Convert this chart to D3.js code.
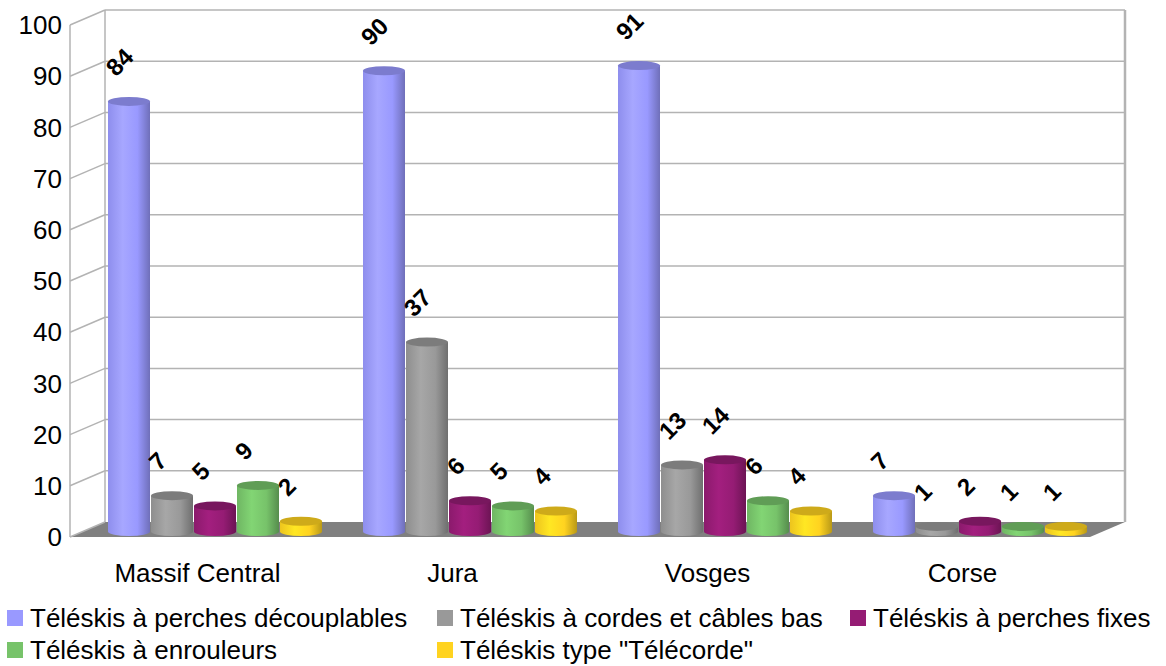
<!DOCTYPE html>
<html>
<head>
<meta charset="utf-8">
<script src="https://cdn.jsdelivr.net/npm/d3@7"></script>
<style>
  body { margin: 0; background: #fff; }
  text { font-family: "Liberation Sans", Arial, sans-serif; }
</style>
</head>
<body>
<div id="vis"></div>
<script>
// data
const regions = ["Massif Central", "Jura", "Vosges", "Corse"];
const seriesNames = [
    "Téléskis à perches découplables",
    "Téléskis à cordes et câbles bas",
    "Téléskis à perches fixes",
    "Téléskis à enrouleurs",
    "Téléskis type \"Télécorde\""
];
const decouplables = [84, 90, 91, 7];
const cordes = [7, 37, 13, 1];
const perchesFixes = [5, 6, 14, 2];
const enrouleurs = [9, 5, 6, 1];
const telecorde = [2, 4, 4, 1];
const yTicks = [0, 10, 20, 30, 40, 50, 60, 70, 80, 90, 100];
const colors = ["#9999ff", "#999999", "#951c74", "#77c36a", "#ffd320"];

const values = [decouplables, cordes, perchesFixes, enrouleurs, telecorde];

const width = 1166, height = 666;
const left = 70, right = 1090;   // front edge of the floor
const depth = { dx: 35, dy: -15 }; // offset front -> back wall

const svg = d3.select("#vis").append("svg")
    .attr("width", width)
    .attr("height", height);

const y = d3.scaleLinear().domain([0, 100]).range([537, 25]);
const x = d3.scaleBand().domain(regions).range([left, right]);
const xs = d3.scaleBand().domain(seriesNames)
    .range([20, x.bandwidth() - 20]);

const defs = svg.append("defs");
colors.forEach((c, i) => {
    const base = d3.color(c);
    const g = defs.append("linearGradient")
        .attr("id", "cyl" + i)
        .attr("x1", 0).attr("x2", 1).attr("y1", 0).attr("y2", 0);
    g.append("stop").attr("offset", 0).attr("stop-color", base.darker(0.2));
    g.append("stop").attr("offset", 0.35).attr("stop-color", base.brighter(0.25));
    g.append("stop").attr("offset", 0.7).attr("stop-color", base);
    g.append("stop").attr("offset", 1).attr("stop-color", base.darker(0.9));
});

const gridColor = "#b3b3b3";

// floor
svg.append("path")
    .attr("d", `M${left},${y(0)}L${left + depth.dx},${y(0) + depth.dy}L${right + depth.dx},${y(0) + depth.dy}L${right},${y(0)}Z`)
    .attr("fill", "#808080");

// walls and grid
const grid = svg.append("g")
    .attr("stroke", gridColor)
    .attr("stroke-width", 1.5)
    .attr("fill", "none");

grid.selectAll("line.back")
    .data(yTicks.filter(d => d > 0))
    .join("line")
    .attr("x1", left + depth.dx)
    .attr("x2", right + depth.dx)
    .attr("y1", d => y(d) + depth.dy)
    .attr("y2", d => y(d) + depth.dy);

grid.selectAll("line.side")
    .data(yTicks)
    .join("line")
    .attr("x1", left)
    .attr("x2", left + depth.dx)
    .attr("y1", d => y(d))
    .attr("y2", d => y(d) + depth.dy);

grid.append("line")
    .attr("x1", left).attr("x2", left)
    .attr("y1", y(100)).attr("y2", y(0));
grid.append("line")
    .attr("x1", left + depth.dx).attr("x2", left + depth.dx)
    .attr("y1", y(100) + depth.dy).attr("y2", y(0) + depth.dy);
grid.append("line")
    .attr("x1", right + depth.dx).attr("x2", right + depth.dx)
    .attr("y1", y(100) + depth.dy).attr("y2", y(0) + depth.dy)
    .attr("stroke-width", 2.5);

// y tick labels
svg.append("g")
    .selectAll("text")
    .data(yTicks)
    .join("text")
    .attr("x", 62)
    .attr("y", d => y(d))
    .attr("dy", "0.35em")
    .attr("text-anchor", "end")
    .attr("font-size", 26)
    .attr("fill", "#000")
    .text(d => d);

// cylinders (placed part way into the depth)
const mid = { dx: depth.dx / 2, dy: -5.5 };
const ry = 4.5;
const bars = [];
regions.forEach((r, ci) => {
    seriesNames.forEach((s, si) => {
        bars.push({ region: r, series: s, si: si, value: values[si][ci] });
    });
});

const barG = svg.append("g")
    .selectAll("g")
    .data(bars)
    .join("g");

barG.each(function(d) {
    const g = d3.select(this);
    const x0 = x(d.region) + xs(d.series) + mid.dx + 0.5;
    const w = xs.bandwidth() - 1;
    const rx = w / 2;
    const cx = x0 + rx;
    const yb = y(0) + mid.dy;
    const yt = y(d.value) + mid.dy;
    g.append("path")
        .attr("d", `M${x0},${yt}L${x0},${yb}A${rx},${ry} 0 0 0 ${x0 + w},${yb}L${x0 + w},${yt}Z`)
        .attr("fill", `url(#cyl${d.si})`);
    g.append("ellipse")
        .attr("cx", cx).attr("cy", yt)
        .attr("rx", rx).attr("ry", ry)
        .attr("fill", d3.color(colors[d.si]).darker(0.6));
    g.append("text")
        .attr("transform", `translate(${cx - 13},${yt - 24}) rotate(-45)`)
        .attr("font-size", 24)
        .attr("font-weight", "bold")
        .attr("fill", "#000")
        .text(d.value);
});

// category labels
svg.append("g")
    .selectAll("text")
    .data(regions)
    .join("text")
    .attr("x", d => x(d) + x.bandwidth() / 2)
    .attr("y", 582)
    .attr("text-anchor", "middle")
    .attr("font-size", 26)
    .attr("fill", "#000")
    .text(d => d);

// legend
const legendPos = [[7, 610], [437, 610], [850, 610], [7, 642], [437, 642]];
const legendItem = svg.append("g")
    .selectAll("g")
    .data(seriesNames)
    .join("g")
    .attr("transform", (d, i) => `translate(${legendPos[i][0]},${legendPos[i][1]})`);

legendItem.append("rect")
    .attr("width", 16)
    .attr("height", 16)
    .attr("fill", (d, i) => colors[i]);

legendItem.append("text")
    .attr("x", 23)
    .attr("y", 17)
    .attr("font-size", 26)
    .attr("fill", "#000")
    .text(d => d);
</script>
</body>
</html>
